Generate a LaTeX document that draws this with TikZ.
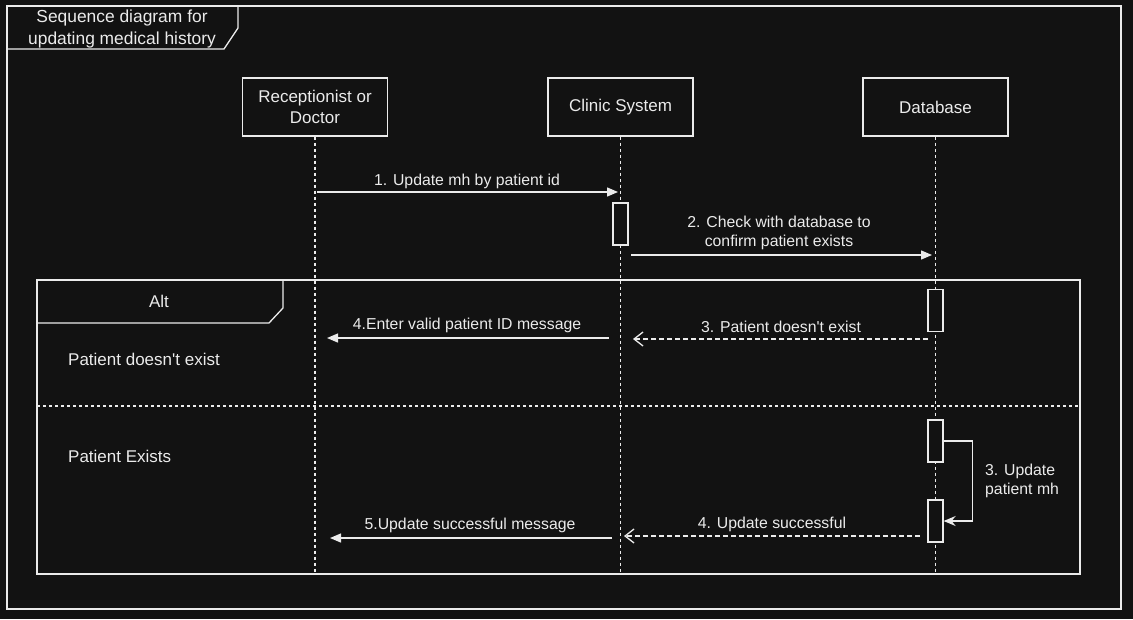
\documentclass[tikz,border=0pt]{standalone}
\usepackage{fontspec}
\setmainfont{Liberation Sans}
\usetikzlibrary{arrows.meta}
\definecolor{bg}{HTML}{121212}
\definecolor{fg}{HTML}{EBEBEB}
\tikzset{
	base_line/.style = {
		draw=fg,
		line width=1.3pt
	},
	life_box/.style = {
		base_line,
		align=center,
		inner sep=0pt,
		text=fg,
		minimum width=145pt,
		minimum height=58pt
	},
	act_box/.style = {
		base_line,
		fill=bg,
		inner sep=0pt,
		minimum width=15pt,
		minimum height=42pt
	},
	life_line/.style = {
		base_line,
		dash pattern=on 3pt off 3pt
	},
	msg/.style = {
		base_line,
		-{Triangle[length=11pt,width=9pt]}
	},
	msg_ret/.style = {
		base_line,
		dash pattern=on 5pt off 3pt,
		-{Straight Barb[length=9pt,width=14pt,line width=1.3pt]}
	},
	msg_self/.style = {
		base_line,
		-{Stealth[length=12pt,width=10pt,inset=4pt]}
	},
	txt/.style = {
		text=fg,
		inner sep=0pt,
		align=center
	},
	txt_left/.style = {
		txt,
		align=left,
		anchor=west
	},
	msg_lbl/.style = {
		txt,
		font=\fontsize{15.8}{19.5}\selectfont
	},
}
\begin{document}
\begin{tikzpicture}[x=1pt,y=-1pt,font=\fontsize{17}{21}\selectfont]
\fill[bg] (0,0) rectangle (1133,619);
\useasboundingbox (0,0) rectangle (1133,619);
\draw[base_line] (7,6) rectangle (1121,609);
\draw[base_line] (7,49) -- (224,49) -- (238,28) -- (238,6);
\node[txt,font=\fontsize{17.4}{22}\selectfont] (title) at (122,29) {Sequence diagram for\\updating medical history};
\node[life_box] (recep) at (315,107) {Receptionist or\\Doctor};
\node[life_box] (clinic) at (620.5,107) {Clinic System};
\node[life_box] (db) at (935.5,107) {Database};
\coordinate (recep_end) at (315,574);
\coordinate (clinic_end) at (620.5,574);
\coordinate (db_end) at (935.5,574);
\draw[life_line] (recep) -- (recep_end);
\draw[life_line] (clinic) -- (clinic_end);
\draw[life_line] (db) -- (db_end);
\draw[base_line] (37,280) rectangle (1080,574);
\draw[base_line] (37,323) -- (269,323) -- (283,308) -- (283,280);
\draw[life_line] (37,406) -- (1080,406);
\node[txt] (alt) at (159,301) {Alt};
\node[txt_left] (cond1) at (68,359) {Patient doesn\textquotesingle t exist};
\node[txt_left] (cond2) at (68,456) {Patient Exists};
\node[act_box] (clinic_act) at (620.5,224) {};
\node[act_box] (db_act1) at (935.5,310.5) {};
\node[act_box] (db_act2) at (935.5,441) {};
\node[act_box] (db_act3) at (935.5,521) {};
\coordinate (m1_s) at (317,192);
\coordinate (m1_e) at (618,192);
\draw[msg] (m1_s) -- (m1_e);
\node[msg_lbl] (m1_lbl) at (467,181) {1. Update mh by patient id};
\coordinate (m2_s) at (631,255);
\coordinate (m2_e) at (932,255);
\draw[msg] (m2_s) -- (m2_e);
\node[msg_lbl] (m2_lbl) at (779,233) {2. Check with database to\\confirm patient exists};
\coordinate (m3_s) at (928,339);
\coordinate (m3_e) at (633,339);
\draw[msg_ret] (m3_s) -- (m3_e);
\node[msg_lbl] (m3_lbl) at (781,327) {3. Patient doesn\textquotesingle t exist};
\coordinate (m4_s) at (609,338);
\coordinate (m4_e) at (327,338);
\draw[msg] (m4_s) -- (m4_e);
\node[msg_lbl] (m4_lbl) at (467,325) {4.Enter valid patient ID message};
\draw[msg_self] (db_act2.east) -- ++(29,0) |- (db_act3.east);
\node[msg_lbl,align=left,anchor=west] (self_lbl) at (985,481) {3. Update\\patient mh};
\coordinate (m5_s) at (920,536);
\coordinate (m5_e) at (624,536);
\draw[msg_ret] (m5_s) -- (m5_e);
\node[msg_lbl] (m5_lbl) at (772,524) {4. Update successful};
\coordinate (m6_s) at (612,538);
\coordinate (m6_e) at (330,538);
\draw[msg] (m6_s) -- (m6_e);
\node[msg_lbl] (m6_lbl) at (470,525) {5.Update successful message};
\end{tikzpicture}
\end{document}
